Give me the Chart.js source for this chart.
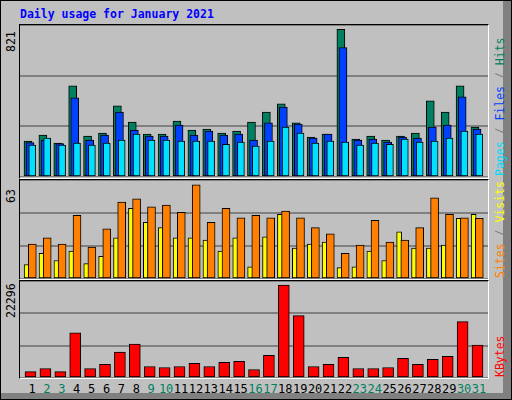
<!DOCTYPE html>
<html><head><meta charset="utf-8">
<script src="https://cdn.jsdelivr.net/npm/chart.js@4/dist/chart.umd.min.js"></script>
<style>
body{margin:0;background:#fff}
#frame{position:absolute;left:0;top:0;width:510px;height:398px;border:1px solid #000;background:#C0C0C0;overflow:hidden}
#bev1{position:absolute;left:502px;top:0;width:8px;height:398px;background:#808080}
#bev2{position:absolute;left:0;top:392px;width:510px;height:6px;background:#808080}
.panel{position:absolute;left:19px;width:470px;border:1px solid #000;border-right-color:#fff;border-bottom-color:#fff;box-sizing:border-box}
canvas{position:absolute}
.t{position:absolute;font-family:"DejaVu Sans Mono",monospace;white-space:nowrap}
.rot{position:absolute;font-family:"DejaVu Sans Mono",monospace;font-size:11.5px;white-space:nowrap;transform-origin:0 0;transform:rotate(-90deg)}
</style></head><body>
<div id="frame"><div id="bev1"></div><div id="bev2"></div></div>
<div class="t" style="left:20px;top:7px;font-size:11.5px;font-weight:bold;color:#0000ff">Daily usage for January 2021</div>
<div class="panel" style="top:24px;height:155px"></div>
<div class="panel" style="top:179px;height:101px"></div>
<div class="panel" style="top:280px;height:99px"></div>
<canvas id="c1" style="left:20px;top:25px;width:468px;height:152px"></canvas>
<canvas id="c2" style="left:20px;top:180px;width:468px;height:99px"></canvas>
<canvas id="c3" style="left:20px;top:281px;width:468px;height:97px"></canvas>
<div class="rot" style="left:4px;top:52px">821</div>
<div class="rot" style="left:4px;top:203px">63</div>
<div class="rot" style="left:4px;top:318px">22296</div>
<div class="rot" style="left:493px;top:176px"><span style="color:#00D8F8">Pages</span><span style="color:#808080"> / </span><span style="color:#0040FF">Files</span><span style="color:#808080"> / </span><span style="color:#008060">Hits</span></div>
<div class="rot" style="left:493px;top:278px"><span style="color:#FF8000">Sites</span><span style="color:#808080"> / </span><span style="color:#FFFF00">Visits</span></div>
<div class="rot" style="left:493px;top:377px"><span style="color:#FF0000">KBytes</span></div>
<div id="days"></div>
<script>
const days=[1,2,3,4,5,6,7,8,9,10,11,12,13,14,15,16,17,18,19,20,21,22,23,24,25,26,27,28,29,30,31];
const weekend=[2,3,9,10,16,17,23,24,30,31];
const hits=[194,226,183,492,221,237,384,297,232,232,302,253,259,237,248,297,351,395,292,215,232,797,205,221,199,221,237,411,351,492,270];
const files=[186,200,180,427,199,226,351,253,221,221,281,226,248,226,232,199,292,378,286,210,232,699,199,205,188,215,210,270,281,433,259];
const pages=[172,210,172,183,172,183,199,232,199,199,194,194,194,177,188,167,194,270,237,183,194,188,172,183,177,205,188,194,210,248,232];
const visits=[9.2,16.3,11.8,17.7,9.8,14.4,26.2,45,36,32.7,26.2,26.2,24.8,17.7,26.2,7.8,26.8,41.2,19.6,22.2,23.5,7.2,7.8,17.7,11.8,30,19.6,19.6,21.6,38.6,41.2];
const sites=[22.2,26.2,22.2,40.5,20.3,32,49,51,46,47,42.5,60,36,45,39,40.5,39,43.2,39,32.7,28.8,16.3,21.6,37.3,23.5,24.8,32.7,51.7,41.2,39,38.6];
const kbytes=[1480,2180,1480,10370,2180,3120,5930,7800,2650,2420,2650,3350,2650,3590,3820,1950,5230,21370,14350,2650,3120,4760,2180,2180,2420,4520,3120,4290,5000,12950,7570];
const maxHits=821,maxSites=63,maxKB=22296;

const PX=14.9, XMIN=1-12/PX, XMAX=XMIN+468/PX;
function ds(vals,off,w,color,order){return {data:vals.map((v,i)=>({x:days[i]+off,y:v})),backgroundColor:color,borderColor:'#000',borderWidth:1,borderSkipped:false,barThickness:w,grouped:false,order:order};}
function mk(id,datasets,max){
  return new Chart(document.getElementById(id),{type:'bar',data:{datasets},
    options:{animation:false,responsive:false,maintainAspectRatio:false,devicePixelRatio:1,
      layout:{padding:0},plugins:{legend:{display:false},tooltip:{enabled:false}},
      scales:{x:{type:'linear',offset:false,min:XMIN,max:XMAX,display:false},
        y:{min:0,max:max,ticks:{display:false,stepSize:max/3},grid:{color:'#808080',lineWidth:2,drawTicks:false},border:{display:false}}}}});
}
['c1','c2','c3'].forEach(id=>{const c=document.getElementById(id);c.width=parseInt(c.style.width);c.height=parseInt(c.style.height);});
mk('c1',[ds(hits,-0.27,8,'#008060',3),ds(files,-0.13,8,'#0040FF',2),ds(pages,0.02,7,'#00E0FF',1)],maxHits);
mk('c2',[ds(visits,-0.36,5,'#FFFF00',2),ds(sites,0.02,8,'#FF8000',1)],maxSites);
const ch3=mk('c3',[ds(kbytes,-0.1,11,'#FF0000',1)],maxKB);
const dd=document.getElementById('days');
days.forEach(d=>{const s=document.createElement('div');s.className='t';s.style.fontSize='12px';
  s.style.color=weekend.includes(d)?'#008060':'#000';s.textContent=d;
  const x=20+ch3.scales.x.getPixelForValue(d);
  s.style.left=(x-(String(d).length*7.2)/2)+'px';s.style.top='382px';dd.appendChild(s);});
</script></body></html>
